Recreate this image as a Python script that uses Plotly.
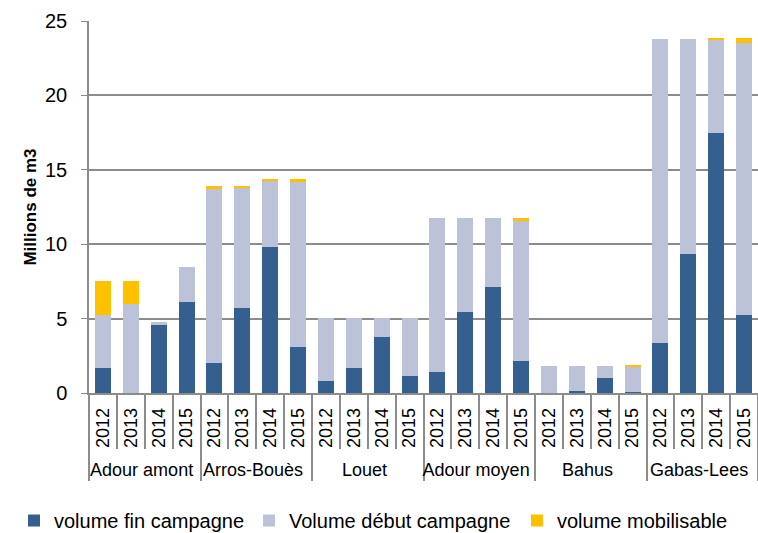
import plotly.graph_objects as go

groups = ["Adour amont", "Arros-Bouès", "Louet", "Adour moyen", "Bahus", "Gabas-Lees"]
years = ["2012", "2013", "2014", "2015"]

fin = [1.66, 0.0, 4.62, 6.14,
       2.02, 5.73, 9.83, 3.11,
       0.83, 1.70, 3.76, 1.14,
       1.43, 5.44, 7.15, 2.17,
       0.00, 0.12, 0.99, 0.05,
       3.34, 9.32, 17.45, 5.26]
debut = [3.56, 5.96, 0.13, 2.33,
         11.71, 8.09, 4.46, 11.09,
         4.23, 3.36, 1.30, 3.92,
         10.35, 6.34, 4.63, 9.41,
         1.81, 1.69, 0.82, 1.72,
         20.45, 14.47, 6.25, 18.28]
mobilisable = [2.31, 1.57, 0.0, 0.0,
               0.16, 0.05, 0.05, 0.16,
               0.0, 0.0, 0.0, 0.0,
               0.0, 0.0, 0.0, 0.20,
               0.0, 0.0, 0.0, 0.05,
               0.0, 0.0, 0.14, 0.30]

xg = [g for g in groups for _ in years]
xy = [y for _ in groups for y in years]

fig = go.Figure()
series = [("volume fin campagne", fin, "#355F8F", "legend"),
          ("Volume début campagne", debut, "#BCC3D8", "legend2"),
          ("volume mobilisable", mobilisable, "#FFC000", "legend3")]
for name, vals, col, lg in series:
    fig.add_trace(go.Bar(x=[xg, xy], y=vals, name=name, marker_color=col,
                         marker_line_width=0, legend=lg, showlegend=True))

def leg(xpx):
    return dict(orientation="h", xref="container", yref="container",
                x=xpx / 758, xanchor="left", y=0.06, yanchor="top",
                font=dict(size=20), itemwidth=30, bgcolor="rgba(0,0,0,0)",
                visible=True)

fig.update_layout(
    barmode="stack", bargap=0.426,
    width=758, height=533, showlegend=True,
    margin=dict(l=89, r=0, t=21, b=140, autoexpand=False),
    plot_bgcolor="white", paper_bgcolor="white",
    font=dict(family="Liberation Sans, Arial", size=18, color="black"),
    legend=leg(14), legend2=leg(249), legend3=leg(517),
)
fig.update_yaxes(range=[0, 25], dtick=5, showgrid=True, gridcolor="#8C8C8C", gridwidth=1.5,
                 showline=True, linecolor="#8C8C8C", linewidth=1.5,
                 ticks="outside", ticklen=6, tickcolor="#8C8C8C", automargin=False,
                 ticklabelstandoff=10,
                 title=dict(text="<b>Millions de m3</b>", font=dict(size=17), standoff=4),
                 tickfont=dict(size=20))
fig.update_xaxes(showline=True, linecolor="#8C8C8C", linewidth=1.5, automargin=False,
                 ticks="outside", tickcolor="#8C8C8C", ticklen=54, tickwidth=1.5,
                 tickangle=-90, tickfont=dict(size=18), ticklabelstandoff=6,
                 showdividers=True, dividercolor="#8C8C8C", dividerwidth=1.5)
fig.write_html("out.html", config={"displayModeBar": False},
               post_script="document.body.style.margin='0';")
